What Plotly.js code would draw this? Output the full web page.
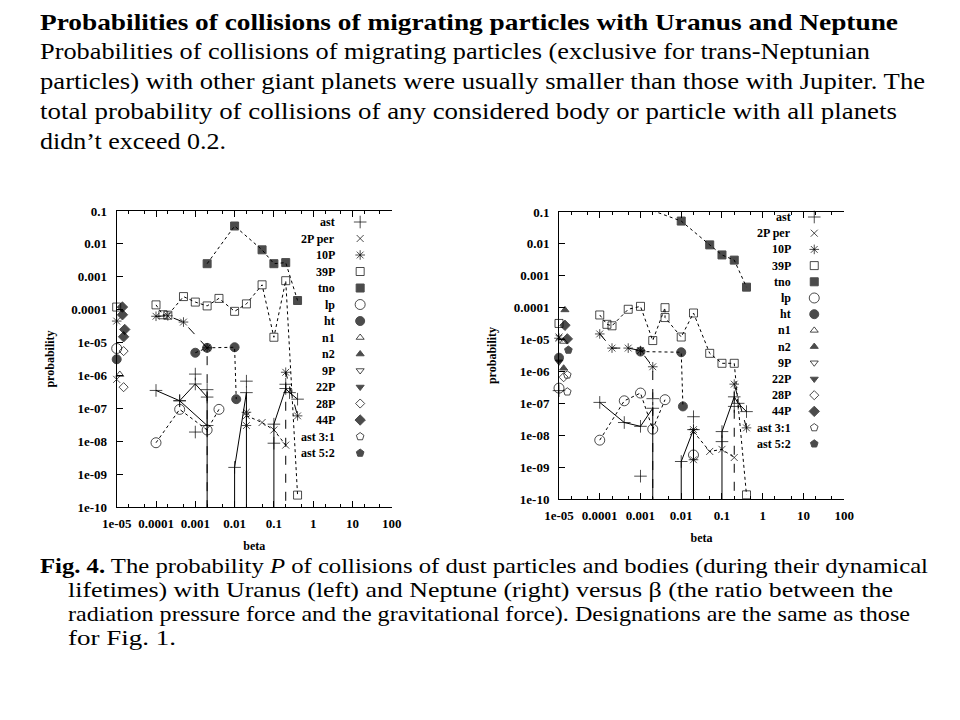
<!DOCTYPE html>
<html><head><meta charset="utf-8">
<script src="https://cdn.plot.ly/plotly-3.0.1.min.js"></script>
<style>
body{margin:0;background:#fff;width:960px;height:720px;overflow:hidden;position:relative;font-family:'Liberation Serif','Times New Roman',Tinos,Times,serif;color:#000;}
#chart{position:absolute;left:0;top:0;width:960px;height:720px;}
.ln{position:absolute;white-space:nowrap;transform-origin:0 50%;}
.t{font-size:24px;line-height:26px;font-weight:bold;}
.b{font-size:23px;line-height:26px;}
.c{font-size:21px;line-height:20px;}
</style></head><body>
<div id="chart"></div>
<div class="ln t" data-w="858" style="left:40px;top:9px">Probabilities of collisions of migrating particles with Uranus and Neptune</div>
<div class="ln b" data-w="830" style="left:40px;top:39px">Probabilities of collisions of migrating particles (exclusive for trans-Neptunian</div>
<div class="ln b" data-w="885" style="left:40px;top:69px">particles) with other giant planets were usually smaller than those with Jupiter. The</div>
<div class="ln b" data-w="857" style="left:40px;top:99px">total probability of collisions of any considered body or particle with all planets</div>
<div class="ln b" data-w="186" style="left:40px;top:129px">didn’t exceed 0.2.</div>
<div class="ln c" data-w="888" style="left:40px;top:556px"><b>Fig. 4.</b> The probability <i>P</i> of collisions of dust particles and bodies (during their dynamical</div>
<div class="ln c" data-w="825" style="left:68px;top:580px">lifetimes) with Uranus (left) and Neptune (right) versus β (the ratio between the</div>
<div class="ln c" data-w="842" style="left:68px;top:604px">radiation pressure force and the gravitational force). Designations are the same as those</div>
<div class="ln c" data-w="108" style="left:68px;top:628px">for Fig. 1.</div>
<script>
// ---------- tick labels ----------
const X_TICKS = [1e-5, 1e-4, 1e-3, 1e-2, 0.1, 1, 10, 100];
const X_TICKTEXT = ['1e-05', '0.0001', '0.001', '0.01', '0.1', '1', '10', '100'];
const Y_TICKS = [1e-10, 1e-9, 1e-8, 1e-7, 1e-6, 1e-5, 1e-4, 1e-3, 1e-2, 0.1];
const Y_TICKTEXT = ['1e-10', '1e-09', '1e-08', '1e-07', '1e-06', '1e-05', '0.0001', '0.001', '0.01', '0.1'];

// ---------- series names (key order) ----------
const SERIES = ['ast', '2P per', '10P', '39P', 'tno', 'lp', 'ht', 'n1', 'n2', '9P', '22P', '28P', '44P', 'ast 3:1', 'ast 5:2'];

// ---------- Uranus (left); 0 = zero probability, null = break ----------
const U_AST_BETA = [1e-4, 4e-4, 1e-3, 2e-3, 2e-3, null, 4e-4, 2e-3, null, 1e-3, null, 1e-3, null, 2e-3, null, 1e-2, 1e-2, 2e-2, 2e-2, null, 2e-2, null, 0.1, 0.1, 0.2, 0.25, 0.4, null, 0.1, null, 0.2];
const U_AST_P    = [3.5e-7, 1.7e-7, 5.5e-7, 2.2e-7, 0, null, 1.7e-7, 3e-8, null, 1.1e-6, null, 1.9e-8, null, 3.7e-7, null, 0, 1.6e-9, 3e-7, 0, null, 6.7e-7, null, 0, 3.3e-8, 4e-7, 3e-7, 1.9e-7, null, 8.7e-9, null, 5.4e-7];
const U_2P_BETA  = [1e-5, null, 2e-2, 5e-2, 0.1, 0.2];
const U_2P_P     = [7.6e-7, null, 6e-8, 3.7e-8, 2.2e-8, 7.6e-9];
const U_10P_BETA = [1e-5, null, 1e-4, 2e-4, 5e-4, 2e-3, 2e-3, null, 2e-2, 2e-2, null, 0.2, 0.2, 0.4];
const U_10P_P    = [4.5e-5, null, 6.3e-5, 6.5e-5, 4.2e-5, 6.9e-6, 0, null, 7.6e-8, 3e-8, null, 0, 1.25e-6, 5.9e-8];
const U_39P_BETA = [1e-5, null, 1e-4, 1.5e-4, 2e-4, 5e-4, 1e-3, 2e-3, 4e-3, 1e-2, 2e-2, 5e-2, 0.1, 0.2, 0.4];
const U_39P_P    = [1.2e-4, null, 1.4e-4, 7e-5, 6.8e-5, 2.5e-4, 1.7e-4, 1.3e-4, 2.2e-4, 8.9e-5, 1.5e-4, 5.7e-4, 1.45e-5, 7.6e-4, 2.3e-10];
const U_TNO_BETA = [2e-3, 1e-2, 5e-2, 0.1, 0.2, 0.4];
const U_TNO_P    = [2.5e-3, 3.5e-2, 6.6e-3, 2.5e-3, 2.7e-3, 1.9e-4];
const U_LP_BETA  = [1e-5, null, 1e-4, 4e-4, 2e-3, 4e-3];
const U_LP_P     = [6.6e-6, null, 9e-9, 9.3e-8, 2.2e-8, 9.3e-8];
const U_HT_BETA  = [1e-5, null, 1e-3, 2e-3, 1e-2, 1.1e-2];
const U_HT_P     = [3.1e-6, null, 4.9e-6, 6.9e-6, 7.2e-6, 1.9e-7];
const U_N1_BETA  = [1.2e-5];
const U_N1_P     = [1.07e-6];
const U_28P_BETA = [1.5e-5, 1.5e-5];
const U_28P_P    = [5.5e-6, 4.4e-7];
const U_44P_BETA = [1.4e-5, 1.4e-5, 1.6e-5, 1.5e-5];
const U_44P_P    = [1.2e-4, 7e-5, 2.5e-5, 1.5e-5];

// ---------- Neptune (right) ----------
const N_AST_BETA = [1e-5, null, 1e-4, 4e-4, 1e-3, 2e-3, 2e-3, null, 1e-3, null, 2e-3, null, 1e-2, 1e-2, 2e-2, 2e-2, null, 2e-2, null, 0.1, 0.1, 0.2, 0.25, 0.4, null, 0.1, null, 0.2];
const N_AST_P    = [2.5e-7, null, 1.07e-7, 2.5e-8, 1.9e-8, 7e-8, 0, null, 5.2e-10, null, 1.4e-7, null, 0, 1.5e-9, 1.5e-8, 0, null, 3.8e-8, null, 0, 1.3e-8, 1.6e-7, 1e-7, 5.5e-8, null, 6.3e-9, null, 8e-8];
const N_2P_BETA  = [1e-5, null, 2e-2, 5e-2, 0.1, 0.2];
const N_2P_P     = [1.2e-5, null, 1.3e-8, 3.1e-9, 3.6e-9, 2e-9];
const N_10P_BETA = [1e-5, null, 1e-4, 2e-4, 5e-4, 1e-3, 2e-3, 2e-3, null, 2e-2, 2e-2, null, 0.2, 0.2, 0.4];
const N_10P_P    = [1.1e-5, null, 1.5e-5, 5.4e-6, 5.4e-6, 4.5e-6, 1.4e-6, 0, null, 1.5e-8, 1.7e-9, null, 0, 4e-7, 1.7e-8];
const N_39P_BETA = [1e-5, null, 1e-4, 1.5e-4, 2e-4, 5e-4, 1e-3, 2e-3, 4e-3, 4e-3, 1e-2, 2e-2, 5e-2, 0.1, 0.2, 0.4];
const N_39P_P    = [3.2e-5, null, 5.9e-5, 3e-5, 2.7e-5, 8.9e-5, 1.1e-4, 9.3e-6, 1e-4, 4.9e-5, 1.2e-5, 6.8e-5, 3.7e-6, 1.8e-6, 1.8e-6, 1.35e-10];
const N_TNO_BETA = [2e-3, 1e-2, 5e-2, 0.1, 0.2, 0.4];
const N_TNO_P    = [0.11, 0.052, 0.0093, 0.0045, 0.0031, 4.4e-4];
const N_LP_BETA  = [1e-5, null, 1e-4, 4e-4, 1e-3, 2e-3, 4e-3, null, 2e-2];
const N_LP_P     = [3e-7, null, 7e-9, 1.2e-7, 2.1e-7, 1.55e-8, 1.3e-7, null, 2.4e-9];
const N_HT_BETA  = [1e-5, null, 1e-3, 1e-2, 1.1e-2];
const N_HT_P     = [2.7e-6, null, 4.2e-6, 4e-6, 8e-8];
const N_N1_BETA  = [1.3e-5];
const N_N1_P     = [8.7e-6];
const N_N2_BETA  = [1.4e-5, 1.3e-5];
const N_N2_P     = [8.5e-5, 1.26e-6];
const N_22P_BETA = [1e-5];
const N_22P_P    = [2e-6];
const N_28P_BETA = [1.3e-5];
const N_28P_P    = [6.6e-7];
const N_44P_BETA = [1.4e-5, 1.6e-5];
const N_44P_P    = [2.8e-5, 1.05e-5];
const N_A31_BETA = [1.6e-5, 1.6e-5];
const N_A31_P    = [7.8e-7, 2.3e-7];
const N_A52_BETA = [1.7e-5];
const N_A52_P    = [4.7e-6];

// ---------- styles ----------
const FONT = 'Liberation Serif, Times New Roman, Tinos, Times, serif';
const SYM = {'ast':'cross-thin-open','2P per':'x-thin-open','10P':'asterisk-open','39P':'square-open','tno':'square',
  'lp':'circle-open','ht':'circle','n1':'triangle-up-open','n2':'triangle-up','9P':'triangle-down-open','22P':'triangle-down',
  '28P':'diamond-open','44P':'diamond','ast 3:1':'pentagon-open','ast 5:2':'pentagon'};
const SIZE = {'ast':9,'2P per':7,'10P':8,'39P':8,'tno':8,'lp':10,'ht':9,'n1':7,'n2':7,'9P':7,'22P':7,'28P':7,'44P':8,'ast 3:1':8,'ast 5:2':8};
const FLOOR = 1e-12; // zero probability -> drawn down through the bottom axis

function tr(name, beta, p, dash, xa, ya){
  return {type:'scatter', mode: dash ? 'lines+markers' : 'markers', name, showlegend:false, cliponaxis:false,
    x: beta, y: p.map(v => v === null ? null : (v === 0 ? FLOOR : v)), xaxis: xa, yaxis: ya,
    line:{color:'#000', width:1, dash: dash || 'solid'},
    marker:{symbol: SYM[name], size: p.map(v => v === 0 ? 0 : SIZE[name]), color:'#000', line:{color:'#000', width:1}}};
}
const traces = [
  tr('39P', U_39P_BETA, U_39P_P, 'dot', 'x', 'y'),
  tr('tno', U_TNO_BETA, U_TNO_P, 'dot', 'x', 'y'),
  tr('10P', U_10P_BETA, U_10P_P, 'dash', 'x', 'y'),
  tr('2P per', U_2P_BETA, U_2P_P, 'dot', 'x', 'y'),
  tr('lp', U_LP_BETA, U_LP_P, 'dot', 'x', 'y'),
  tr('ht', U_HT_BETA, U_HT_P, 'dot', 'x', 'y'),
  tr('ast', U_AST_BETA, U_AST_P, 'solid', 'x', 'y'),
  tr('n1', U_N1_BETA, U_N1_P, null, 'x', 'y'),
  tr('28P', U_28P_BETA, U_28P_P, null, 'x', 'y'),
  tr('44P', U_44P_BETA, U_44P_P, null, 'x', 'y'),
  tr('39P', N_39P_BETA, N_39P_P, 'dot', 'x2', 'y2'),
  tr('tno', N_TNO_BETA, N_TNO_P, 'dot', 'x2', 'y2'),
  tr('10P', N_10P_BETA, N_10P_P, 'dash', 'x2', 'y2'),
  tr('2P per', N_2P_BETA, N_2P_P, 'dot', 'x2', 'y2'),
  tr('lp', N_LP_BETA, N_LP_P, 'dot', 'x2', 'y2'),
  tr('ht', N_HT_BETA, N_HT_P, 'dot', 'x2', 'y2'),
  tr('ast', N_AST_BETA, N_AST_P, 'solid', 'x2', 'y2'),
  tr('n1', N_N1_BETA, N_N1_P, null, 'x2', 'y2'),
  tr('n2', N_N2_BETA, N_N2_P, null, 'x2', 'y2'),
  tr('22P', N_22P_BETA, N_22P_P, null, 'x2', 'y2'),
  tr('28P', N_28P_BETA, N_28P_P, null, 'x2', 'y2'),
  tr('44P', N_44P_BETA, N_44P_P, null, 'x2', 'y2'),
  tr('ast 3:1', N_A31_BETA, N_A31_P, null, 'x2', 'y2'),
  tr('ast 5:2', N_A52_BETA, N_A52_P, null, 'x2', 'y2')
];

// ---------- gnuplot-style key (symbol right of label) on overlay axes ----------
const KEYS = [{xa:'x3', ya:'y3', sym:0.885, txt:0.80}, {xa:'x4', ya:'y4', sym:0.895, txt:0.82}];
const annotations = [];
KEYS.forEach(k => {
  traces.push({type:'scatter', mode:'markers', showlegend:false, cliponaxis:false, xaxis:k.xa, yaxis:k.ya,
    x: SERIES.map(() => k.sym), y: SERIES.map((s, i) => i),
    marker:{symbol: SERIES.map(s => SYM[s]), size: SERIES.map(s => SIZE[s]), color:'#000', line:{color:'#000', width:1}}});
  SERIES.forEach((s, i) => annotations.push({xref:k.xa, yref:k.ya, x:k.txt, y:i, text:s, showarrow:false,
    xanchor:'right', yanchor:'middle', font:{family:FONT, size:12, weight:'bold', color:'#000'}}));
});

const tickFont = {family:FONT, size:13, weight:'bold', color:'#000'};
const titleFont = {family:FONT, size:12, weight:'bold', color:'#000'};
function xax(domain, anchor){
  return {type:'log', domain, anchor, range:[-5, 2], tickmode:'array', tickvals:X_TICKS, ticktext:X_TICKTEXT,
    ticks:'inside', ticklen:6, tickcolor:'#000', showline:true, linecolor:'#000', linewidth:1, mirror:'ticks',
    showgrid:false, zeroline:false, tickfont:tickFont, ticklabelstandoff:4,
    minor:{ticks:'inside', ticklen:3, tickcolor:'#000', showgrid:false},
    title:{text:'beta', font:titleFont, standoff:12}, fixedrange:true};
}
function yax(domain, anchor){
  return {type:'log', domain, anchor, range:[-10, -1], tickmode:'array', tickvals:Y_TICKS, ticktext:Y_TICKTEXT,
    ticks:'inside', ticklen:6, tickcolor:'#000', showline:true, linecolor:'#000', linewidth:1, mirror:false,
    showgrid:false, zeroline:false, tickfont:tickFont, ticklabelstandoff:6,
    title:{text:'probability', font:titleFont, standoff:14}, fixedrange:true};
}
const LX = [116.7/960, 391.8/960], LY = [1 - 507/720, 1 - 211/720];
const RX = [559/960, 844.2/960], RY = [1 - 499/720, 1 - 212/720];
const layout = {
  width:960, height:720, margin:{l:0, r:0, t:0, b:0}, paper_bgcolor:'rgba(0,0,0,0)', plot_bgcolor:'rgba(0,0,0,0)',
  showlegend:false, font:{family:FONT, color:'#000'},
  xaxis: xax(LX, 'y'), yaxis: yax(LY, 'x'),
  xaxis2: xax(RX, 'y2'), yaxis2: yax(RY, 'x2'),
  xaxis3: {overlaying:'x', anchor:'y3', range:[0,1], visible:false, fixedrange:true},
  yaxis3: {overlaying:'y', anchor:'x3', range:[17.27, -0.667], visible:false, fixedrange:true},
  xaxis4: {overlaying:'x2', anchor:'y4', range:[0,1], visible:false, fixedrange:true},
  yaxis4: {overlaying:'y2', anchor:'x4', range:[17.41, -0.309], visible:false, fixedrange:true},
  annotations
};
Plotly.newPlot('chart', traces, layout, {staticPlot:true, displayModeBar:false});

// fit text lines to the slide's line widths
function fit(){
  document.querySelectorAll('.ln').forEach(el => {
    el.style.transform = 'none';
    const w = el.getBoundingClientRect().width;
    el.style.transform = 'scaleX(' + (+el.dataset.w / w).toFixed(4) + ')';
  });
}
fit();
if (document.fonts && document.fonts.ready) document.fonts.ready.then(fit);
</script>
</body></html>
